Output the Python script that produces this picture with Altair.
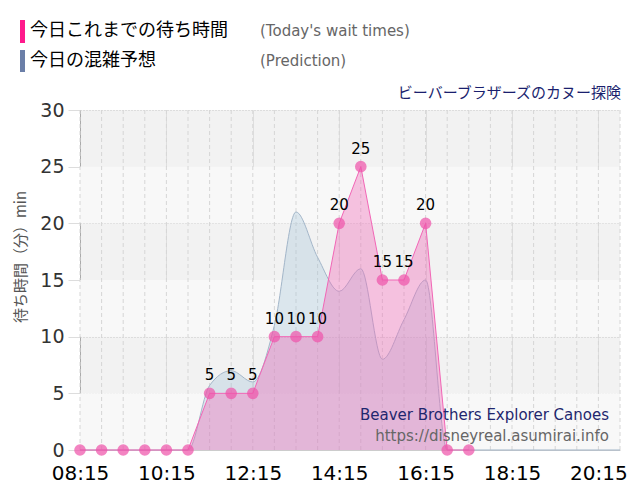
import altair as alt
import pandas as pd

# ---- data ----
actual_times = ["08:15", "08:45", "09:15", "09:45", "10:15", "10:45", "11:15", "11:45",
                "12:15", "12:45", "13:15", "13:45", "14:15", "14:45", "15:15", "15:45",
                "16:15", "16:45", "17:15"]
actual_vals = [0, 0, 0, 0, 0, 0, 5, 5, 5, 10, 10, 10, 20, 25, 15, 15, 20, 0, 0]

pred_times = ["08:15", "08:45", "09:15", "09:45", "10:15", "10:45", "11:15", "11:45",
              "12:15", "12:45", "13:15", "13:45", "14:15", "14:45", "15:15", "15:45",
              "16:15", "16:45", "17:15", "17:45", "18:15", "18:45", "19:15", "19:45",
              "20:15", "20:45"]
pred_vals = [0, 0, 0, 0, 0, 0, 5.7, 7, 6, 11, 21, 17, 14, 16, 8, 11.5, 15, 0,
             0, 0, 0, 0, 0, 0, 0, 0]

x_ticks = ["08:15", "10:15", "12:15", "14:15", "16:15", "18:15", "20:15"]
y_ticks = [0, 5, 10, 15, 20, 25, 30]
band_lo = [0, 10, 20]
band_hi = [5, 15, 25]


def hours(s):
    h, m = s.split(":")
    return int(h) + int(m) / 60


actual = pd.DataFrame({"t": [hours(s) for s in actual_times], "v": actual_vals})
actual["label"] = [str(v) if v > 0 else "" for v in actual_vals]
pred = pd.DataFrame({"t": [hours(s) for s in pred_times], "v": pred_vals})
bands = pd.DataFrame({"lo": band_lo, "hi": band_hi})
grid = pd.DataFrame({"t": [hours(s) for s in pred_times]})

W, H = 540, 340
xscale = alt.Scale(domain=[hours("08:15"), hours("20:45")], nice=False, zero=False)
yscale = alt.Scale(domain=[0, 30], nice=False)

label_expr = ("pad(toString(floor(datum.value)), 2, '0', 'left') + ':' + "
              "pad(toString(round((datum.value - floor(datum.value)) * 60)), 2, '0', 'left')")
xaxis = alt.Axis(values=[hours(s) for s in x_ticks], labelExpr=label_expr, title=None,
                 labelFont="DejaVu Sans", labelFontSize=20, labelColor="#000000",
                 labelPadding=13, tickSize=0, grid=True, gridColor="#dedede",
                 domainColor="#cccccc", labelOverlap=False, labelFlush=False)
yaxis = alt.Axis(values=y_ticks, title=None, labelFont="DejaVu Sans", labelFontSize=19,
                 labelColor="#333333", labelPadding=4, tickSize=12, tickColor="#dddddd",
                 grid=True, gridColor="#c8c8c8", gridDash=[1, 2], domainColor="#aaaaaa",
                 labelOverlap=False)

X = alt.X("t:Q", scale=xscale, axis=xaxis)
Y = alt.Y("v:Q", scale=yscale, axis=yaxis)

band_layer = alt.Chart(bands).mark_rect(color="#f8f8f8").encode(
    x=alt.value(0), x2=alt.value(W),
    y=alt.Y("lo:Q", scale=yscale, axis=yaxis), y2="hi:Q")

grid_layer = alt.Chart(grid).mark_rule(color="#d6d6d6", strokeDash=[4, 3], strokeWidth=1).encode(x=X)

pred_layer = alt.Chart(pred).mark_area(
    interpolate="monotone", color="#9fc0d8", fillOpacity=0.32,
    line={"color": "#a3b6c9", "strokeWidth": 1}).encode(x=X, y=Y)

act_layer = alt.Chart(actual).mark_area(
    interpolate="linear", color="#f06eb8", fillOpacity=0.4,
    line={"color": "#f266b6", "strokeWidth": 1}).encode(x=X, y=Y)

pts = alt.Chart(actual).mark_circle(size=135, color="#ee55aa", opacity=0.72).encode(x=X, y=Y)

lbls = alt.Chart(actual).mark_text(font="DejaVu Sans", fontSize=15, color="#000000",
                                   dy=-18, baseline="middle").encode(x=X, y=Y, text="label:N")


def txt(s, x, y, size, color, font="Noto Sans CJK JP", align="left", angle=0):
    kw = dict(font=font, fontSize=size, color=color, align=align, baseline="middle", text=s)
    if angle:
        kw["angle"] = angle
    return alt.Chart(pd.DataFrame({"a": [0]})).mark_text(**kw).encode(
        x=alt.value(x), y=alt.value(y))


def bar(x0, x1, y0, y1, color):
    return alt.Chart(pd.DataFrame({"a": [0]})).mark_rect(color=color).encode(
        x=alt.value(x0), x2=alt.value(x1), y=alt.value(y0), y2=alt.value(y1))


annot = [
    bar(-60, -55, -90, -67, "#ff1a8c"),
    bar(-60, -55, -60, -38, "#6b7fa8"),
    txt("今日これまでの待ち時間", -50, -79, 18, "#000000"),
    txt("今日の混雑予想", -50, -49, 18, "#000000"),
    txt("(Today's wait times)", 180, -79, 15, "#666666", font="DejaVu Sans"),
    txt("(Prediction)", 180, -49, 15, "#666666", font="DejaVu Sans"),
    txt("ビーバーブラザーズのカヌー探険", W + 1, -17, 15, "#1a1f6e", align="right"),
    txt("Beaver Brothers Explorer Canoes", W - 11, 305, 15, "#1f276e",
        font="DejaVu Sans", align="right"),
    txt("https://disneyreal.asumirai.info", W - 11, 326, 15, "#666666",
        font="DejaVu Sans", align="right"),
    txt("待ち時間（分）min", -59, 147, 15, "#555555", angle=270, align="center"),
]

chart = alt.layer(band_layer, grid_layer, pred_layer, act_layer, pts, lbls, *annot).properties(
    width=W, height=H,
    autosize=alt.AutoSizeParams(type="none"),
    padding={"left": 72, "top": 102, "right": 12, "bottom": 42},
    background="#ffffff",
).configure_view(fill="#f2f2f2", stroke=None)

chart.save("out.html", embed_options={"renderer": "svg", "actions": False})
